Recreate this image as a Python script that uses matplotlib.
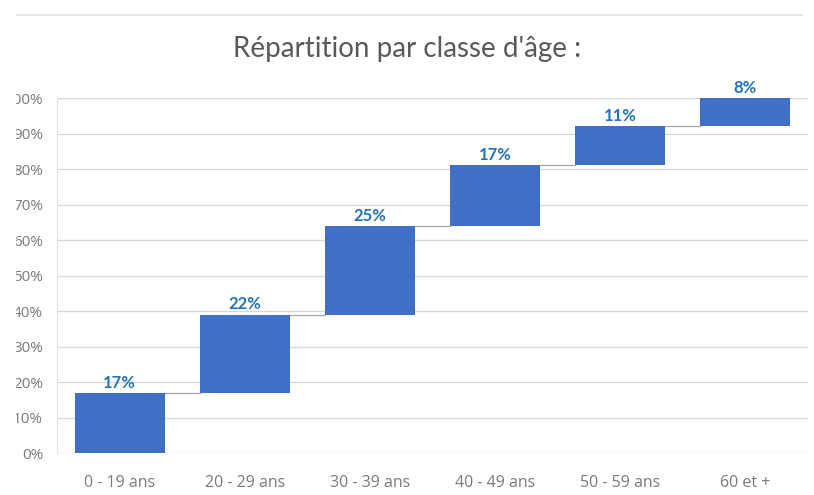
import matplotlib
matplotlib.use("Agg")
import matplotlib.pyplot as plt
import numpy as np
from matplotlib.lines import Line2D
from matplotlib.patches import Rectangle

categories = ["0 - 19 ans", "20 - 29 ans", "30 - 39 ans", "40 - 49 ans",
              "50 - 59 ans", "60 et +"]
shares = [17, 22, 25, 17, 11, 8]
y_ticks = [0, 10, 20, 30, 40, 50, 60, 70, 80, 90, 100]

BAR = "#3f6fc6"
LABEL = "#2373b8"
TEXT = "#595959"
TICK = "#7a7a7a"
GRID = "#d9d9d9"

plt.rcParams["font.family"] = ["Open Sans", "DejaVu Sans"]

fig = plt.figure(figsize=(8.14, 4.95), dpi=100)
ax = fig.add_axes([0.070, 0.0848, 0.9226, 0.7172])

x = np.arange(len(categories))
vals = np.array(shares)
bottoms = np.concatenate([[0], np.cumsum(vals)[:-1]])
tops = bottoms + vals
width = 0.72

ax.bar(x, vals, width, bottom=bottoms, color=BAR, zorder=3)

# waterfall connectors
for i in range(len(x) - 1):
    ax.plot([x[i] + width / 2, x[i + 1] - width / 2], [tops[i], tops[i]],
            color="#a6a6a6", lw=0.9, zorder=2)

for xi, t, v in zip(x, tops, vals):
    ax.text(xi, t + 0.6, f"{v}%", ha="center", va="bottom", color=LABEL,
            fontsize=12, fontweight="bold", family=["Lato", "DejaVu Sans"],
            clip_on=False, zorder=4)

ax.set_xlim(-0.5, len(x) - 0.5)
ax.set_ylim(0, 100)
ax.set_yticks(y_ticks, [f"{t}%" for t in y_ticks])
ax.set_xticks(x, categories)
ax.tick_params(axis="both", length=0, colors=TICK)
ax.tick_params(axis="y", pad=10, labelsize=11)
ax.tick_params(axis="x", pad=16, labelsize=11.5)
ax.grid(axis="y", color=GRID, lw=1, zorder=0)
for side in ["top", "right", "bottom"]:
    ax.spines[side].set_visible(False)
ax.spines["left"].set_color("#e3e3e3")

fig.text(0.5, 0.902, "Répartition par classe d'âge :", ha="center", va="center",
         fontsize=20, color=TEXT, family=["Lato", "DejaVu Sans"])

# screenshot framing: top rule and cropped left edge
fig.add_artist(Line2D([0.012, 0.985], [0.970, 0.970], color="#e0e0e0", lw=1.2,
                      transform=fig.transFigure))
fig.add_artist(Rectangle((0, 0), 0.0184, 1, color="white",
                         transform=fig.transFigure, zorder=10))

fig.savefig("out.png", dpi=100)
